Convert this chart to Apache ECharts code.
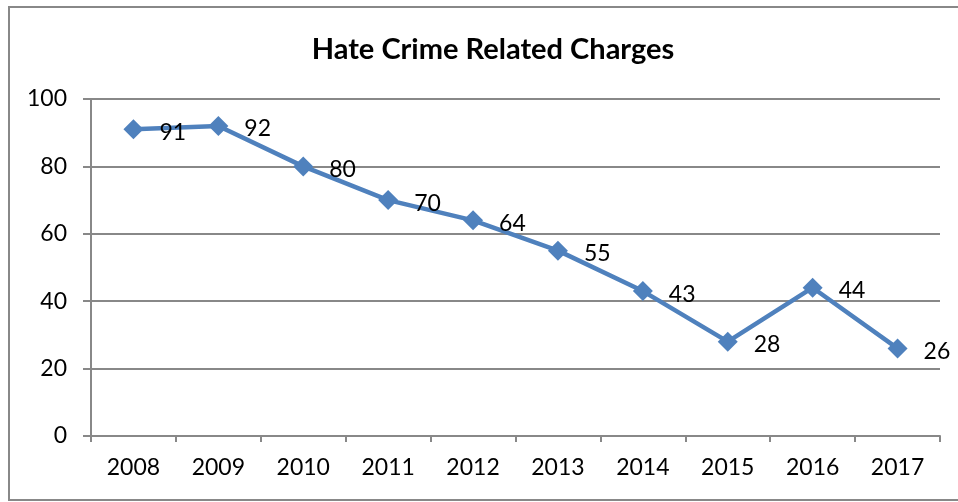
<!DOCTYPE html>
<html>
<head>
<meta charset="utf-8">
<script src="https://cdn.jsdelivr.net/npm/echarts@6/dist/echarts.min.js"></script>
<style>
  html, body { margin: 0; padding: 0; background: #fff; }
  #chart { width: 958px; height: 502px; }
</style>
</head>
<body>
<div id="chart"></div>
<script>
// Yearly hate-crime related charges
const years = ['2008', '2009', '2010', '2011', '2012', '2013', '2014', '2015', '2016', '2017'];
const charges = [91, 92, 80, 70, 64, 55, 43, 28, 44, 26];
const yTicks = { min: 0, max: 100, interval: 20 };

const FONT = 'Lato, "Open Sans", "Liberation Sans", sans-serif';
const chart = echarts.init(document.getElementById('chart'), null, { renderer: 'canvas' });

chart.setOption({
  animation: false,
  backgroundColor: '#fff',
  textStyle: { fontFamily: FONT },
  title: {
    text: 'Hate Crime Related Charges',
    left: 488,
    top: 30,
    textAlign: 'center',
    textStyle: { fontFamily: FONT, fontSize: 29, fontWeight: 'bold', color: '#000' }
  },
  graphic: [{
    type: 'rect',
    shape: { x: 9, y: 7, width: 960, height: 493 },
    style: { fill: 'none', stroke: '#888', lineWidth: 2 },
    silent: true,
    z: -1
  }],
  grid: { left: 91, top: 99, right: 18, bottom: 66, containLabel: false },
  xAxis: {
    type: 'category',
    data: years,
    boundaryGap: true,
    axisLine: { lineStyle: { color: '#888', width: 2 } },
    axisTick: { show: true, length: 6, alignWithLabel: false, lineStyle: { color: '#888', width: 2 } },
    axisLabel: { color: '#000', fontSize: 23, margin: 20, fontFamily: FONT }
  },
  yAxis: {
    type: 'value',
    min: yTicks.min,
    max: yTicks.max,
    interval: yTicks.interval,
    axisLine: { show: true, lineStyle: { color: '#888', width: 2 } },
    axisTick: { show: true, length: 8, lineStyle: { color: '#888', width: 2 } },
    axisLabel: { color: '#000', fontSize: 23, margin: 24, fontFamily: FONT },
    splitLine: { lineStyle: { color: '#888', width: 2 } }
  },
  series: [{
    type: 'line',
    data: charges,
    symbol: 'diamond',
    symbolSize: 20,
    lineStyle: { color: '#4F81BD', width: 4.5 },
    itemStyle: { color: '#4F81BD' },
    label: {
      show: true,
      position: 'right',
      distance: 16,
      offset: [0, 3],
      color: '#000',
      fontSize: 23,
      fontFamily: FONT
    }
  }]
});
</script>
</body>
</html>
